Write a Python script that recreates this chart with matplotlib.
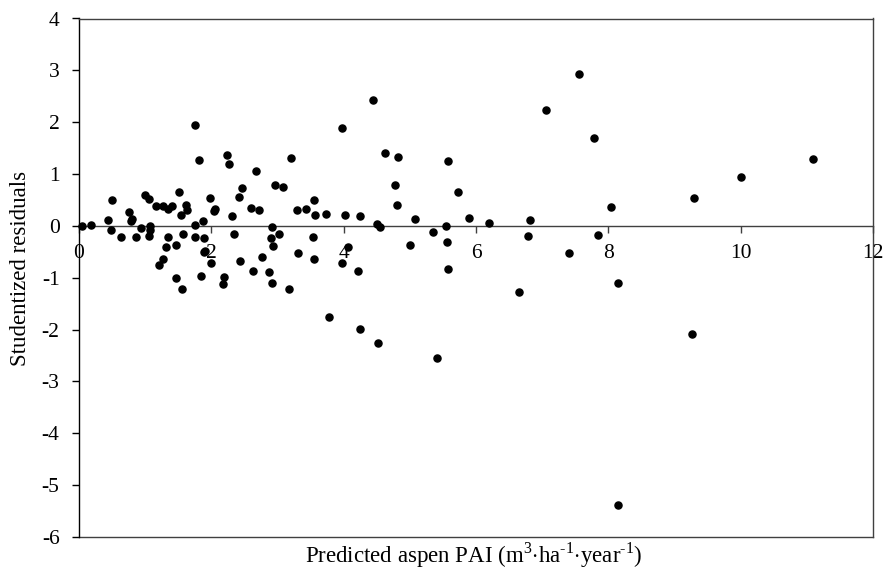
import matplotlib
matplotlib.use('Agg')
import matplotlib.pyplot as plt

# predicted PAI vs studentized residuals
predicted = [0.05, 0.18, 0.44, 0.48, 0.50, 0.64, 0.76, 0.78, 0.80, 0.86,
             0.94, 1.00, 1.06, 1.06, 1.08, 1.08, 1.16, 1.21, 1.27, 1.27,
             1.31, 1.35, 1.35, 1.40, 1.47, 1.47, 1.51, 1.54, 1.56, 1.57,
             1.61, 1.63, 1.75, 1.75, 1.76, 1.82, 1.84, 1.87, 1.89, 1.89,
             1.91, 1.98, 1.99, 2.04, 2.06, 2.17, 2.19, 2.23, 2.26, 2.31,
             2.34, 2.42, 2.44, 2.47, 2.60, 2.63, 2.67, 2.72, 2.76, 2.87,
             2.90, 2.91, 2.92, 2.93, 2.96, 3.02, 3.08, 3.18, 3.20, 3.30,
             3.31, 3.43, 3.53, 3.55, 3.55, 3.57, 3.73, 3.78, 3.97, 3.98,
             4.02, 4.06, 4.22, 4.24, 4.25, 4.45, 4.51, 4.52, 4.55, 4.62,
             4.77, 4.81, 4.82, 5.00, 5.08, 5.35, 5.41, 5.55, 5.56, 5.57,
             5.58, 5.73, 5.89, 6.19, 6.65, 6.78, 6.82, 7.06, 7.40, 7.56,
             7.79, 7.85, 8.04, 8.15, 8.15, 9.27, 9.29, 10.01, 11.10]
residuals = [0.00, 0.01, 0.11, -0.08, 0.49, -0.21, 0.26, 0.10, 0.14, -0.22,
             -0.04, 0.60, 0.51, -0.19, -0.01, -0.07, 0.38, -0.76, 0.39, -0.64,
             -0.41, 0.32, -0.21, 0.39, -0.37, -1.01, 0.66, 0.21, -1.21, -0.15,
             0.41, 0.30, 1.94, 0.01, -0.21, 1.27, -0.96, 0.10, -0.24, -0.51,
             -0.48, 0.54, -0.72, 0.28, 0.32, -1.13, -0.98, 1.36, 1.20, 0.20,
             -0.15, 0.55, -0.67, 0.74, 0.35, -0.87, 1.05, 0.30, -0.60, -0.89,
             -0.23, -0.03, -1.10, -0.38, 0.78, -0.16, 0.75, -1.21, 1.30, 0.30,
             -0.53, 0.33, -0.21, 0.49, -0.64, 0.21, 0.23, -1.75, 1.88, -0.72,
             0.21, -0.40, -0.87, -1.98, 0.20, 2.43, 0.03, -2.25, -0.02, 1.41,
             0.78, 0.40, 1.32, -0.37, 0.13, -0.12, -2.54, -0.01, -0.32, 1.25,
             -0.83, 0.66, 0.16, 0.06, -1.27, -0.19, 0.11, 2.23, -0.52, 2.92,
             1.70, -0.17, 0.37, -1.11, -5.39, -2.09, 0.54, 0.94, 1.29]

x_ticks = [0, 2, 4, 6, 8, 10, 12]
y_ticks = [4, 3, 2, 1, 0, -1, -2, -3, -4, -5, -6]

plt.rcParams['font.family'] = ['Liberation Serif', 'DejaVu Serif']
plt.rcParams['mathtext.fontset'] = 'custom'
plt.rcParams['mathtext.rm'] = 'Liberation Serif'
plt.rcParams['axes.unicode_minus'] = False

fig = plt.figure(figsize=(8.85, 5.69), dpi=100)
ax = fig.add_axes([79 / 885, 1 - 537 / 569, 794 / 885, 518.5 / 569])

ax.scatter(predicted, residuals, s=26, color='black', zorder=3, clip_on=False)

ax.set_xlim(0, 12)
ax.set_ylim(-6, 4)
ax.set_xticks(x_ticks)
ax.set_yticks(y_ticks)

frame = '#404040'
ax.spines['left'].set_color('black')
ax.spines['top'].set_color(frame)
ax.spines['right'].set_color(frame)
ax.spines['bottom'].set_position(('data', 0))
ax.spines['bottom'].set_color(frame)
for sp in ax.spines.values():
    sp.set_linewidth(1.0)
# bottom edge of the plot box
ax.plot([0, 1], [0, 0], transform=ax.transAxes, color=frame, lw=1.0,
        clip_on=False)

ax.tick_params(axis='y', direction='out', length=5, width=1, pad=9,
               labelsize=15.5, color='black')
ax.tick_params(axis='x', direction='out', length=5, width=1, pad=8,
               labelsize=15.5, color=frame)

fig.text(21 / 885, 1 - 268 / 569, 'Studentized residuals', rotation=90,
         ha='center', va='center', fontsize=16.5)
fig.text(474 / 885, 1 - 555 / 569,
         r'Predicted aspen PAI (m$^{3}$$\cdot$ha$^{\text{-}1}$$\cdot$year$^{\text{-}1}$)',
         ha='center', va='center', fontsize=16.5)

fig.savefig('out.png', dpi=100)
